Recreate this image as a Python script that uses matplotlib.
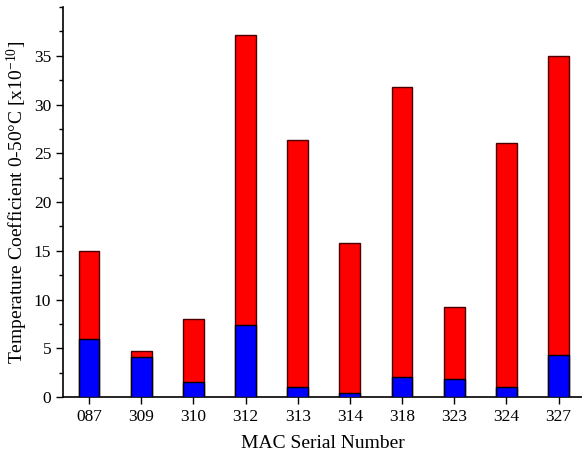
import numpy as np
import matplotlib.pyplot as plt
from matplotlib.ticker import MultipleLocator

# MAC units and their temperature coefficients (x1e-10)
serials = ["087", "309", "310", "312", "313", "314", "318", "323", "324", "327"]
total_coef = [15.0, 4.7, 7.95, 37.1, 26.4, 15.75, 31.75, 9.25, 26.05, 35.0]
low_coef = [5.9, 4.1, 1.5, 7.4, 1.0, 0.45, 2.0, 1.8, 1.0, 4.3]

plt.rcParams["font.family"] = ["Liberation Serif", "DejaVu Serif"]
plt.rcParams["mathtext.fontset"] = "custom"
plt.rcParams["mathtext.rm"] = "Liberation Serif"
plt.rcParams["mathtext.it"] = "Liberation Serif:italic"

fig = plt.figure(figsize=(5.82, 4.55), dpi=100)
ax = fig.add_axes([0.1082, 0.1275, 0.8918, 0.857])

x = np.arange(len(serials))
ax.bar(x, total_coef, width=0.4, color="#ff0000", edgecolor="#4a0000", linewidth=1.0, zorder=2)
ax.bar(x, low_coef, width=0.4, color="#0000ff", edgecolor="black", linewidth=1.0, zorder=3)

ax.set_xlim(-0.5, 9.45)
ax.set_ylim(0, 40)
ax.set_xticks(x)
ax.set_xticklabels(serials)
ax.set_yticks([0, 5, 10, 15, 20, 25, 30, 35])
ax.yaxis.set_minor_locator(MultipleLocator(2.5))

for side in ("top", "right"):
    ax.spines[side].set_visible(False)
for side in ("left", "bottom"):
    ax.spines[side].set_linewidth(1.2)

ax.tick_params(axis="both", which="major", direction="out", length=5, width=1.0, labelsize=12.5)
ax.tick_params(axis="y", which="minor", direction="out", length=3, width=1.0)

ax.set_xlabel("MAC Serial Number", fontsize=14, labelpad=7)
ax.set_ylabel("Temperature Coefficient 0-50°C [x10$^{-10}$]", fontsize=14, labelpad=3)

fig.savefig("out.png", dpi=100)
